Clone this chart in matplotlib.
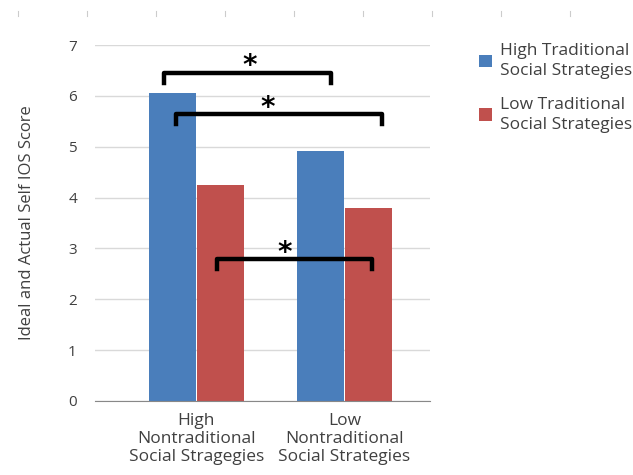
import numpy as np
import matplotlib
matplotlib.use("Agg")
import matplotlib.pyplot as plt

plt.rcParams['font.family'] = ['Open Sans', 'DejaVu Sans']

categories = ["High\nNontraditional\nSocial Stragegies", "Low\nNontraditional\nSocial Strategies"]
series_names = ["High Traditional\nSocial Strategies", "Low Traditional\nSocial Strategies"]
high_trad = [6.05, 4.91]
low_trad = [4.24, 3.79]
colors = ["#4a7ebb", "#c0504d"]

# significance brackets: (x start, x end, bar height, star x)
brackets = [(-0.22, 0.91, 6.46, 0.36), (-0.135, 1.257, 5.64, 0.48), (0.142, 1.189, 2.79, 0.60)]

fig = plt.figure(figsize=(6.33, 4.75), dpi=100)
ax = fig.add_axes([0.150, 0.156, 0.529, 0.749])

x = np.arange(len(categories))
w = 0.315
ax.bar(x - w / 2 - 0.005, high_trad, w, color=colors[0], label=series_names[0], zorder=2)
ax.bar(x + w / 2 + 0.005, low_trad, w, color=colors[1], label=series_names[1], zorder=2)

for x0, x1, h, sx in brackets:
    ax.plot([x0, x0, x1, x1], [h - 0.2, h, h, h - 0.2], color="black", lw=3.2,
            solid_joinstyle="round", zorder=3, clip_on=False)
    ax.text(sx, h + 0.12, "*", ha="center", va="center",
            fontsize=20, fontweight="bold", color="black", family="DejaVu Sans", zorder=4)

ax.set_xlim(-0.686, 1.578)
ax.set_ylim(0, 7)
ax.set_yticks(range(8))
ax.set_xticks(x)
ax.set_xticklabels(categories, fontsize=12.5, color="#404040", linespacing=1.15)
ax.tick_params(axis="y", length=0, pad=13, labelsize=11, labelcolor="#404040")
ax.tick_params(axis="x", length=0, pad=9)
ax.grid(axis="y", color="#d9d9d9", lw=1, zorder=0)
for s in ["top", "right", "left"]:
    ax.spines[s].set_visible(False)
ax.spines["bottom"].set_color("#888888")
ax.set_ylabel("Ideal and Actual Self IOS Score", fontsize=12, color="#404040", labelpad=24)

leg = ax.legend(loc="upper left", bbox_to_anchor=(0.737, 0.935), bbox_transform=fig.transFigure,
                frameon=False, fontsize=12.5, handlelength=0.75, handleheight=0.75,
                labelspacing=1.0, handletextpad=0.5, labelcolor="#404040", borderpad=0.2)
for t in leg.get_texts():
    t.set_linespacing(1.35)

# faint tick marks along the top edge of the scanned figure
for fx in np.arange(18, 640, 69):
    fig.add_artist(plt.Line2D([fx / 633, fx / 633], [1 - 11 / 475, 1 - 16 / 475],
                              color="#cccccc", lw=0.8))

fig.savefig("out.png", dpi=100)
